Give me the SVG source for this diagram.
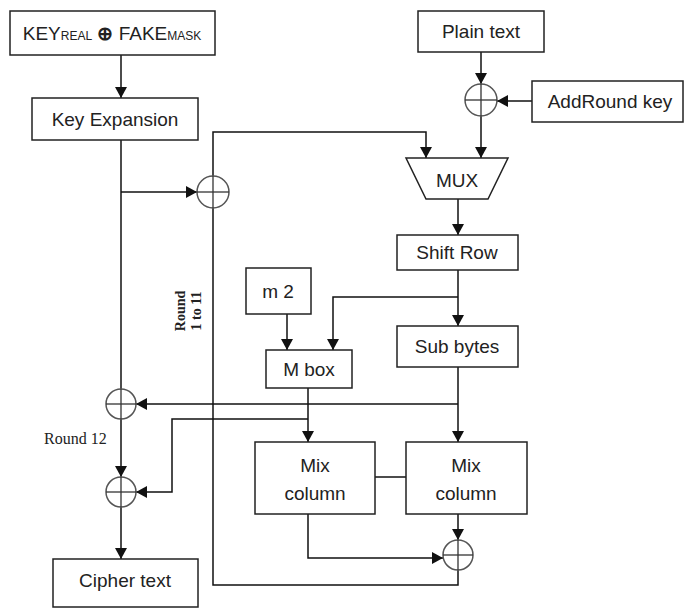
<svg xmlns="http://www.w3.org/2000/svg" width="684" height="608" viewBox="0 0 684 608">
<defs>
<marker id="arr" markerUnits="userSpaceOnUse" markerWidth="12" markerHeight="12" refX="11" refY="6" orient="auto">
<path d="M0,0 L11,6 L0,12 z" fill="#111"/>
</marker>
<style>
.box{fill:#fff;stroke:#222;stroke-width:1.5}
.t{font-family:"Liberation Sans",Arial,sans-serif;font-size:19px;fill:#222;text-anchor:middle}
.s{font-family:"Liberation Serif","Times New Roman",serif;fill:#222}
.c line,.c path{stroke:#111;stroke-width:1.5;fill:none}
.x circle{fill:#fff;stroke:#555;stroke-width:1.5}
.x line{stroke:#333;stroke-width:1.3}
</style>
</defs>
<rect width="684" height="608" fill="#fff"/>
<g id="connectors" class="c">
<path d="M121,55 V98" marker-end="url(#arr)"/>
<path d="M121,140 V389"/>
<path d="M121,192 H197" marker-end="url(#arr)"/>
<path d="M213,176 V132 H426 V158" marker-end="url(#arr)"/>
<path d="M213,208 V585 H458 V570"/>
<path d="M481,52 V84" marker-end="url(#arr)"/>
<path d="M532,101 H497" marker-end="url(#arr)"/>
<path d="M481,116 V158" marker-end="url(#arr)"/>
<path d="M458,199 V235" marker-end="url(#arr)"/>
<path d="M458,270 V326" marker-end="url(#arr)"/>
<path d="M458,297 H333 V350" marker-end="url(#arr)"/>
<path d="M287,314 V350" marker-end="url(#arr)"/>
<path d="M458,367 V442" marker-end="url(#arr)"/>
<path d="M458,404 H136" marker-end="url(#arr)"/>
<path d="M308,388 V442" marker-end="url(#arr)"/>
<path d="M308,419 H172 V492 H136" marker-end="url(#arr)"/>
<path d="M121,419 V477" marker-end="url(#arr)"/>
<path d="M121,507 V559" marker-end="url(#arr)"/>
<path d="M375,477 H406"/>
<path d="M308,514 V558 H443" marker-end="url(#arr)"/>
<path d="M458,514 V540" marker-end="url(#arr)"/>
</g>
<g id="key">
<rect class="box" x="10" y="11" width="205" height="44"/>
<text class="t" x="112" y="40"><tspan>KEY</tspan><tspan font-size="12">REAL</tspan><tspan font-weight="bold"> ⊕ </tspan><tspan>FAKE</tspan><tspan font-size="12">MASK</tspan></text>
</g>
<g id="keyexp">
<rect class="box" x="32" y="98" width="166" height="42"/>
<text class="t" x="115" y="126">Key Expansion</text>
</g>
<g id="plain">
<rect class="box" x="418" y="11" width="126" height="41"/>
<text class="t" x="481" y="38">Plain text</text>
</g>
<g id="addround">
<rect class="box" x="532" y="81" width="151" height="41"/>
<text class="t" x="610" y="108">AddRound key</text>
</g>
<g id="mux">
<path class="box" d="M406,158 H508 L488,199 H426 Z"/>
<text class="t" x="457" y="187">MUX</text>
</g>
<g id="shiftrow">
<rect class="box" x="397" y="235" width="121" height="35"/>
<text class="t" x="457" y="259">Shift Row</text>
</g>
<g id="subbytes">
<rect class="box" x="397" y="326" width="121" height="41"/>
<text class="t" x="457" y="353">Sub bytes</text>
</g>
<g id="m2">
<rect class="box" x="246" y="268" width="65" height="46"/>
<text class="t" x="278" y="298">m 2</text>
</g>
<g id="mbox">
<rect class="box" x="266" y="350" width="86" height="38"/>
<text class="t" x="309" y="376">M box</text>
</g>
<g id="mix1">
<rect class="box" x="255" y="442" width="120" height="72"/>
<text class="t" x="315" y="472">Mix</text>
<text class="t" x="315" y="500">column</text>
</g>
<g id="mix2">
<rect class="box" x="406" y="442" width="121" height="72"/>
<text class="t" x="466" y="472">Mix</text>
<text class="t" x="466" y="500">column</text>
</g>
<g id="cipher">
<rect class="box" x="53" y="559" width="145" height="48"/>
<text class="t" x="125" y="587">Cipher text</text>
</g>
<g id="xor_key" class="x"><circle cx="213" cy="192" r="16"/><line x1="197" y1="192" x2="229" y2="192"/><line x1="213" y1="176" x2="213" y2="208"/></g>
<g id="xor_plain" class="x"><circle cx="481" cy="100" r="16"/><line x1="465" y1="100" x2="497" y2="100"/><line x1="481" y1="84" x2="481" y2="116"/></g>
<g id="xor_r1" class="x"><circle cx="121" cy="404" r="15"/><line x1="106" y1="404" x2="136" y2="404"/><line x1="121" y1="389" x2="121" y2="419"/></g>
<g id="xor_r2" class="x"><circle cx="121" cy="492" r="15"/><line x1="106" y1="492" x2="136" y2="492"/><line x1="121" y1="477" x2="121" y2="507"/></g>
<g id="xor_mix" class="x"><circle cx="458" cy="555" r="15"/><line x1="443" y1="555" x2="473" y2="555"/><line x1="458" y1="540" x2="458" y2="570"/></g>
<text class="s" x="44" y="444" font-size="16">Round 12</text>
<text class="s" font-size="14" font-weight="bold" text-anchor="middle" transform="translate(185,311) rotate(-90)"><tspan x="0" y="0">Round</tspan><tspan x="0" y="16">1 to 11</tspan></text>
</svg>
